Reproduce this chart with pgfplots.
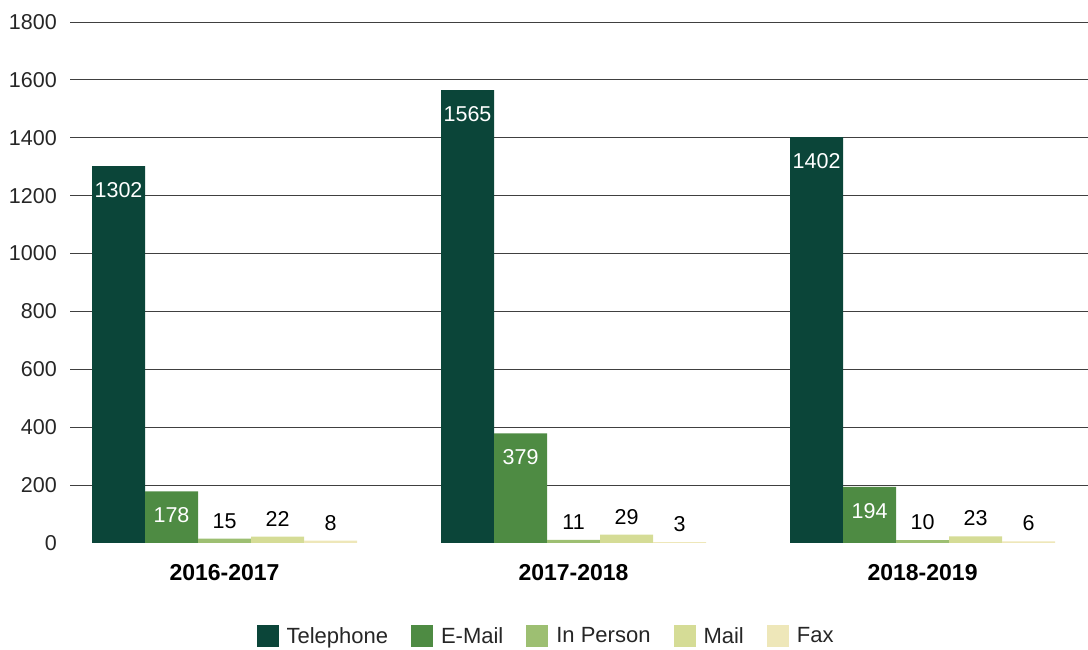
\documentclass[border=0pt]{standalone}
\usepackage{pgfplots}
\pgfplotsset{compat=1.18}
\usepackage{fontspec}
\setmainfont{Liberation Sans}
\definecolor{cTel}{HTML}{0B4539}
\definecolor{cEm}{HTML}{4E8B43}
\definecolor{cIP}{HTML}{9DBF72}
\definecolor{cMa}{HTML}{D5DC96}
\definecolor{cFa}{HTML}{EEE7B9}
\begin{document}
\begin{tikzpicture}
\begin{axis}[
  at={(70pt,107pt)}, anchor=south west,
  scale only axis, width=1018pt, height=521pt,
  xmin=-0.4427, xmax=2.474, ymin=0, ymax=1800,
  axis line style={draw=none},
  /pgf/number format/assume math mode=true,
  /pgf/number format/1000 sep={},
  xtick={0,1,2}, xticklabels={2016-2017,2017-2018,2018-2019},
  ytick={200,400,...,1800},
  extra y ticks={0}, extra y tick style={grid=none},
  ymajorgrids, grid style={black!75, line width=0.8pt},
  major tick length=0pt,
  tick style={draw=none},
  yticklabel style={font=\fontsize{21.5}{25}\selectfont, text=black!85, anchor=east, inner sep=0pt, xshift=-13pt},
  xticklabel style={font=\fontsize{23}{27}\selectfont\bfseries, anchor=north, inner sep=0pt, yshift=-21pt},
  ybar=0pt, bar width=53pt,
  every axis plot/.append style={draw=none},
  legend columns=5,
  legend style={at={(0.4676,-0.1785)}, anchor=center, draw=none, font=\fontsize{22}{26}\selectfont, text=black!85,
    /tikz/every even column/.append style={column sep=21pt}},
  legend image code/.code={\fill[#1] (0pt,-11pt) rectangle (22pt,11pt); \path (28pt,0pt);},
]
\addplot[fill=cTel, nodes near coords, every node near coord/.append style={font=\fontsize{21.5}{25}\selectfont, text=white, anchor=north, inner sep=0pt, yshift=-16pt}] coordinates {(0,1302) (1,1565) (2,1402)};
\addplot[fill=cEm, nodes near coords, every node near coord/.append style={font=\fontsize{21.5}{25}\selectfont, text=white, anchor=north, inner sep=0pt, yshift=-16pt}] coordinates {(0,178) (1,379) (2,194)};
\addplot[fill=cIP, nodes near coords, every node near coord/.append style={font=\fontsize{21.5}{25}\selectfont, text=black, anchor=south, inner sep=0pt, yshift=10pt}] coordinates {(0,15) (1,11) (2,10)};
\addplot[fill=cMa, nodes near coords, every node near coord/.append style={font=\fontsize{21.5}{25}\selectfont, text=black, anchor=south, inner sep=0pt, yshift=10pt}] coordinates {(0,22) (1,29) (2,23)};
\addplot[fill=cFa, nodes near coords, every node near coord/.append style={font=\fontsize{21.5}{25}\selectfont, text=black, anchor=south, inner sep=0pt, yshift=10pt}] coordinates {(0,8) (1,3) (2,6)};
\legend{Telephone, E-Mail, In Person, Mail, Fax}
\end{axis}
\pgfresetboundingbox
\path[use as bounding box] (0,0) rectangle (1088pt,650pt);
\end{tikzpicture}
\end{document}
